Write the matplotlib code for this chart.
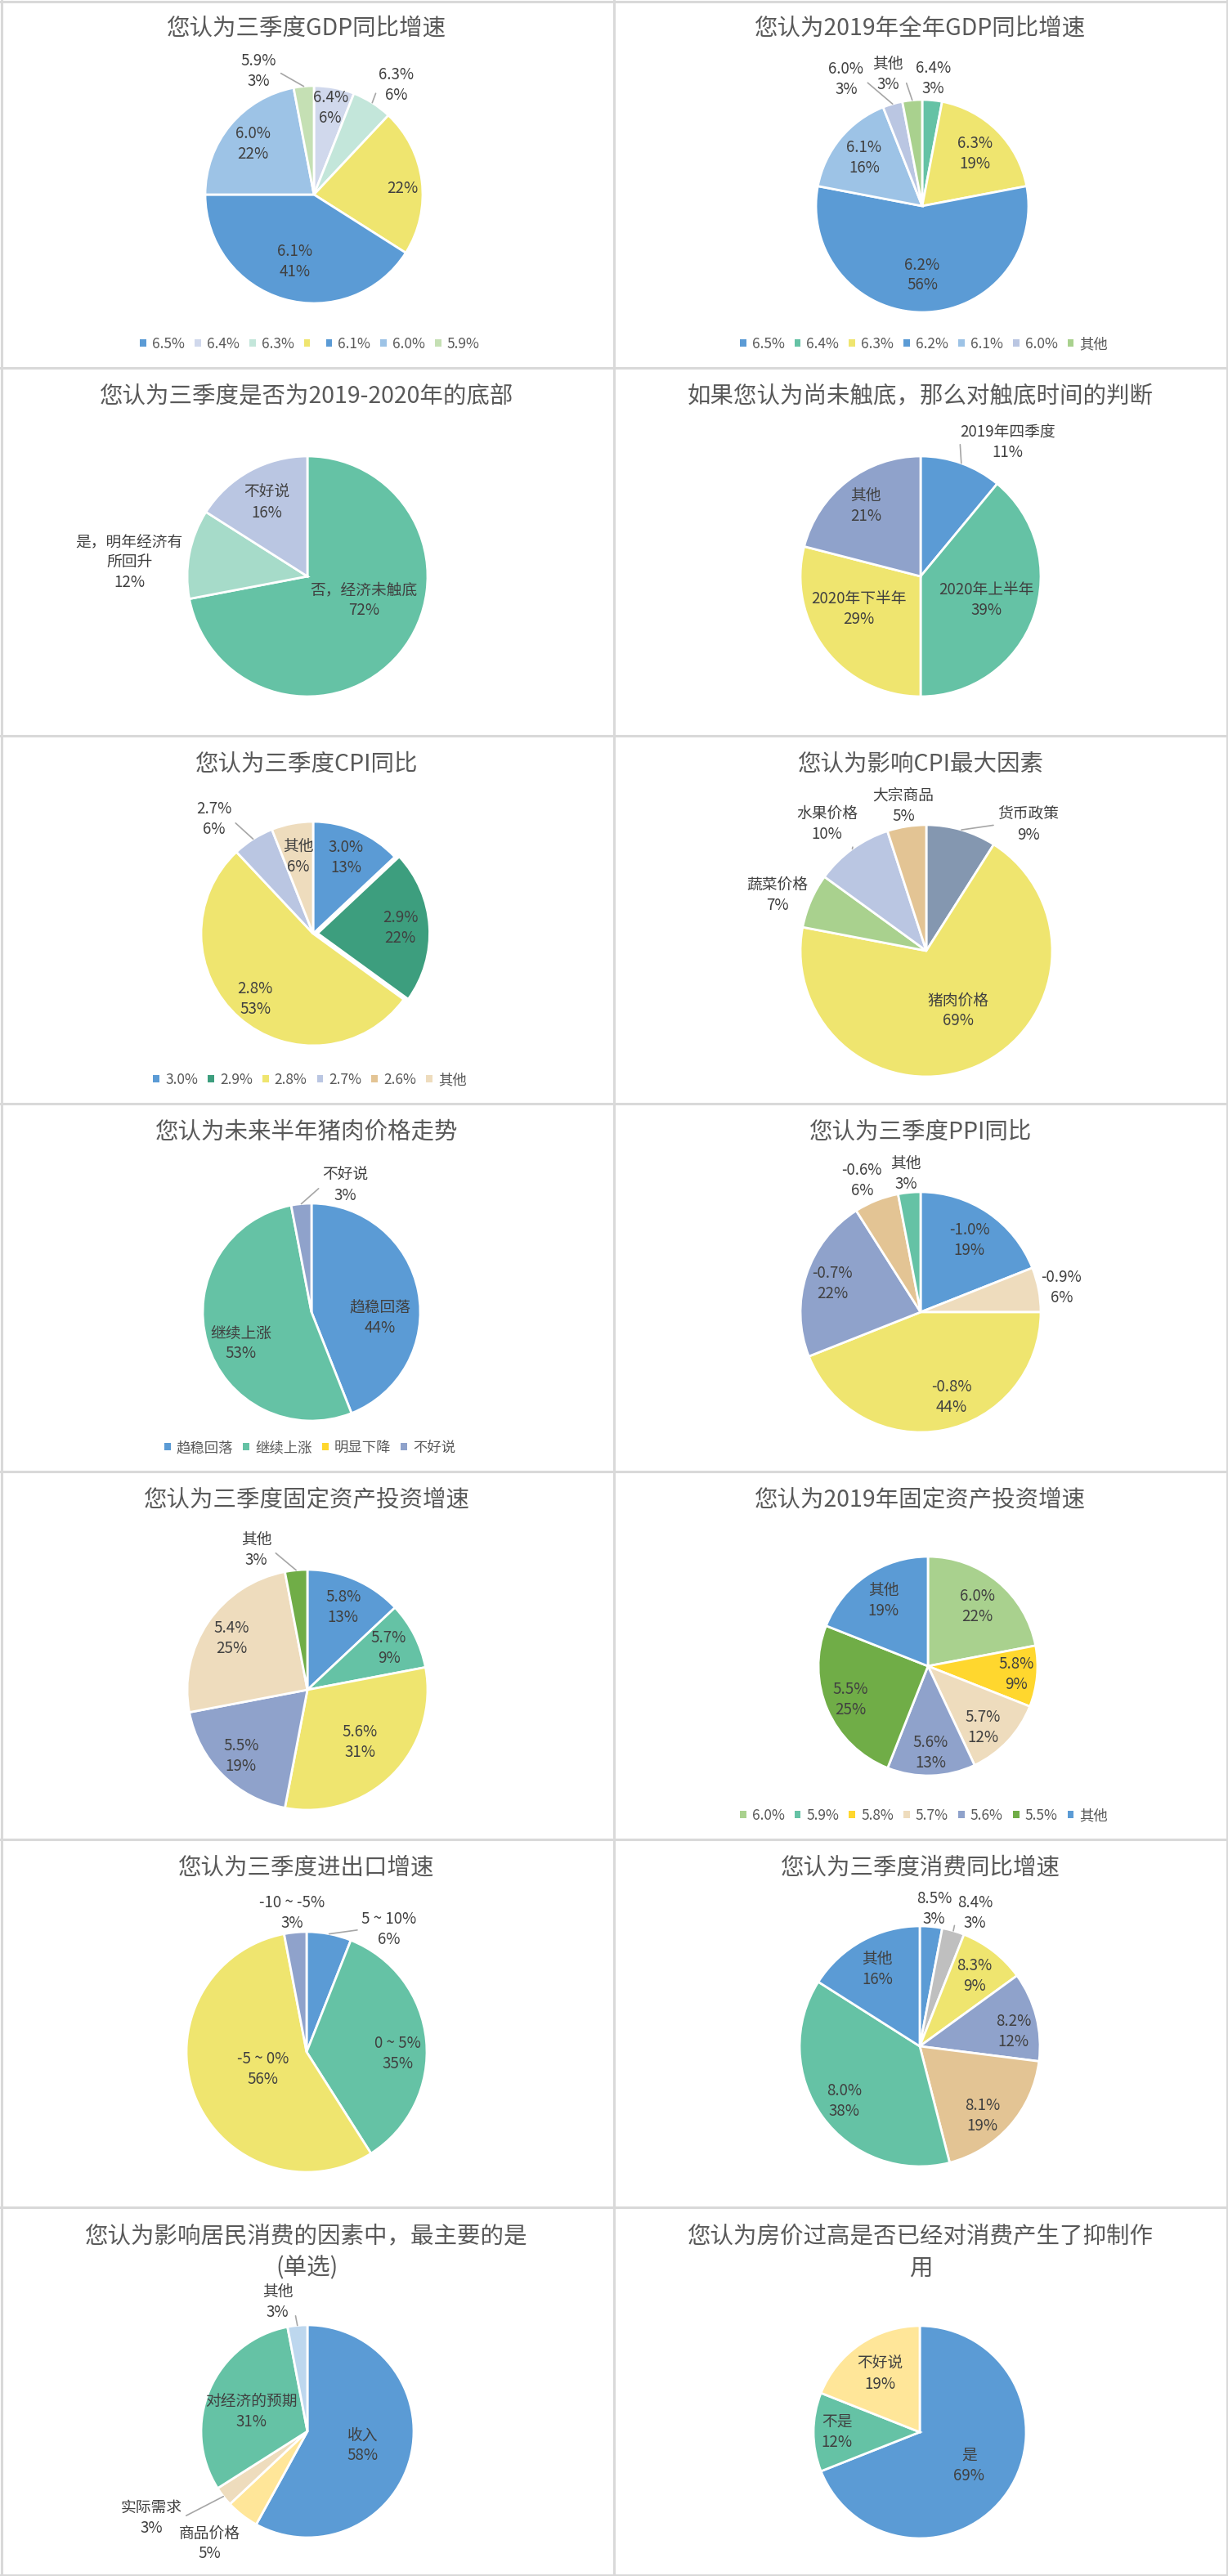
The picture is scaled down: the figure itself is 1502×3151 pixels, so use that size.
import numpy as np
import matplotlib
matplotlib.use('Agg')
from matplotlib import pyplot as plt
from matplotlib.patches import Patch

plt.rcParams['font.family'] = ['Noto Sans CJK SC', 'DejaVu Sans']

W, H = 1502, 3151
CELL_W, CELL_H = 751, 450

# colours used by the survey charts
BLUE = '#5B9BD5'
GREEN = '#65C2A5'
YELLOW = '#EFE56F'
SLATE = '#8FA2CB'
LAVENDER = '#BAC6E2'
TAN = '#E3C494'
BEIGE = '#EEDCBD'
TITLE_C = '#595959'
LABEL_C = '#404040'
LEADER_C = '#A6A6A6'

# 1. 三季度GDP
gdp_q3_title = '您认为三季度GDP同比增速'
gdp_q3_names = ['6.5%', '6.4%', '6.3%', '', '6.1%', '6.0%', '5.9%']
gdp_q3_values = [0, 6, 6, 22, 41, 22, 3]
gdp_q3_colors = [BLUE, '#D0D8EC', '#C3E6DA', YELLOW, BLUE, '#9DC3E6', '#C5E0B4']

# 2. 2019全年GDP
gdp_y_title = '您认为2019年全年GDP同比增速'
gdp_y_names = ['6.5%', '6.4%', '6.3%', '6.2%', '6.1%', '6.0%', '其他']
gdp_y_values = [0, 3, 19, 56, 16, 3, 3]
gdp_y_colors = [BLUE, GREEN, YELLOW, BLUE, '#9DC3E6', LAVENDER, '#A9D18E']

# 3. 是否底部
bottom_title = '您认为三季度是否为2019-2020年的底部'
bottom_names = ['否，经济未触底', '是，明年经济有\n所回升', '不好说']
bottom_values = [72, 12, 16]
bottom_colors = [GREEN, '#A6DBC9', LAVENDER]

# 4. 触底时间
when_title = '如果您认为尚未触底，那么对触底时间的判断'
when_names = ['2019年四季度', '2020年上半年', '2020年下半年', '其他']
when_values = [11, 39, 29, 21]
when_colors = [BLUE, GREEN, YELLOW, SLATE]

# 5. CPI
cpi_title = '您认为三季度CPI同比'
cpi_names = ['3.0%', '2.9%', '2.8%', '2.7%', '2.6%', '其他']
cpi_values = [13, 22, 53, 6, 0, 6]
cpi_colors = [BLUE, '#3D9E7E', YELLOW, LAVENDER, TAN, BEIGE]

# 6. CPI因素
cpi_f_title = '您认为影响CPI最大因素'
cpi_f_names = ['货币政策', '猪肉价格', '蔬菜价格', '水果价格', '大宗商品']
cpi_f_values = [9, 69, 7, 10, 5]
cpi_f_colors = ['#8497B0', YELLOW, '#A9D18E', LAVENDER, TAN]

# 7. 猪肉价格
pork_title = '您认为未来半年猪肉价格走势'
pork_names = ['趋稳回落', '继续上涨', '明显下降', '不好说']
pork_values = [44, 53, 0, 3]
pork_colors = [BLUE, GREEN, '#FFD72E', SLATE]

# 8. PPI
ppi_title = '您认为三季度PPI同比'
ppi_names = ['-1.0%', '-0.9%', '-0.8%', '-0.7%', '-0.6%', '其他']
ppi_values = [19, 6, 44, 22, 6, 3]
ppi_colors = [BLUE, BEIGE, YELLOW, SLATE, TAN, GREEN]

# 9. 三季度固定资产投资
fai_q3_title = '您认为三季度固定资产投资增速'
fai_q3_names = ['5.8%', '5.7%', '5.6%', '5.5%', '5.4%', '其他']
fai_q3_values = [13, 9, 31, 19, 25, 3]
fai_q3_colors = [BLUE, GREEN, YELLOW, SLATE, BEIGE, '#70AD47']

# 10. 2019固定资产投资
fai_y_title = '您认为2019年固定资产投资增速'
fai_y_names = ['6.0%', '5.9%', '5.8%', '5.7%', '5.6%', '5.5%', '其他']
fai_y_values = [22, 0, 9, 12, 13, 25, 19]
fai_y_colors = ['#A9D18E', GREEN, '#FFD72E', BEIGE, SLATE, '#70AD47', BLUE]

# 11. 进出口
trade_title = '您认为三季度进出口增速'
trade_names = ['5 ~ 10%', '0 ~ 5%', '-5 ~ 0%', '-10 ~ -5%']
trade_values = [6, 35, 56, 3]
trade_colors = [BLUE, GREEN, YELLOW, SLATE]

# 12. 消费
cons_title = '您认为三季度消费同比增速'
cons_names = ['8.5%', '8.4%', '8.3%', '8.2%', '8.1%', '8.0%', '其他']
cons_values = [3, 3, 9, 12, 19, 38, 16]
cons_colors = [BLUE, '#BFBFBF', YELLOW, SLATE, TAN, GREEN, BLUE]

# 13. 居民消费因素
factor_title = '您认为影响居民消费的因素中，最主要的是\n(单选)'
factor_names = ['收入', '商品价格', '实际需求', '对经济的预期', '其他']
factor_values = [58, 5, 3, 31, 3]
factor_colors = [BLUE, '#FFE699', BEIGE, GREEN, '#BDD7EE']

# 14. 房价
house_title = '您认为房价过高是否已经对消费产生了抑制作\n用'
house_names = ['是', '不是', '不好说']
house_values = [69, 12, 19]
house_colors = [BLUE, GREEN, '#FFE699']

fig = plt.figure(figsize=(W / 100, H / 100), dpi=100)
bg = fig.add_axes([0, 0, 1, 1])
bg.set_xlim(0, W)
bg.set_ylim(H, 0)
bg.axis('off')

# cell borders
for y in [1.5] + [CELL_H * k for k in range(1, 7)] + [H - 1.5]:
    bg.plot([0, W], [y, y], color='#D9D9D9', lw=2.2)
for x in [1.5, CELL_W, W - 1.5]:
    bg.plot([x, x], [0, H], color='#D9D9D9', lw=2.2)


def draw_pie(row, col, title, names, values, colors, cx, cy, R, place,
             legend=False, explode=None):
    x0, y0 = col * CELL_W, row * CELL_H
    # title
    if '\n' in title:
        bg.text(x0 + 375, y0 + 55, title, ha='center', va='center',
                fontsize=20.5, color=TITLE_C, linespacing=1.4)
    else:
        bg.text(x0 + 375, y0 + 35, title, ha='center', va='center',
                fontsize=20.5, color=TITLE_C)

    px, py = x0 + cx, y0 + cy
    ax = fig.add_axes([(px - R) / W, 1 - (py + R) / H, 2 * R / W, 2 * R / H])

    idx = [i for i, v in enumerate(values) if v > 0]
    vals = [values[i] for i in idx]
    cols = [colors[i] for i in idx]
    exp = [explode[i] if explode else 0 for i in idx]
    ax.pie(vals, colors=cols, startangle=90, counterclock=False, radius=1,
           explode=exp, wedgeprops=dict(edgecolor='white', linewidth=2))
    # pie() resets the limits, so fix them afterwards
    ax.set_xlim(-1, 1)
    ax.set_ylim(-1, 1)
    ax.axis('off')

    total = float(sum(vals))
    cum = 0.0
    for k, i in enumerate(idx):
        v = values[i]
        mid = 360 * (cum + v / 2) / total
        cum += v
        dist, ang, leader = place[i]
        a = np.radians(mid if ang is None else ang)
        tx, ty = dist * np.sin(a), dist * np.cos(a)
        pct = '%d%%' % v
        txt = names[i] + '\n' + pct if names[i] else pct
        if leader:
            m = np.radians(mid)
            ex, ey = np.sin(m), np.cos(m)
            rel = (1, 0.5) if tx < ex else (0, 0.5)
            ax.annotate(txt, xy=(ex, ey), xytext=(tx, ty), ha='center',
                        va='center', fontsize=13.5, color=LABEL_C,
                        linespacing=1.25, annotation_clip=False,
                        arrowprops=dict(arrowstyle='-', color=LEADER_C,
                                        lw=1.2, shrinkA=2, shrinkB=0,
                                        relpos=rel))
        else:
            ax.text(tx, ty, txt, ha='center', va='center', fontsize=13.5,
                    color=LABEL_C, linespacing=1.25, clip_on=False)

    if legend:
        handles = [Patch(facecolor=c, edgecolor='none') for c in colors]
        fig.legend(handles, names, loc='center',
                   bbox_to_anchor=((x0 + 379) / W, 1 - (y0 + 421) / H),
                   ncol=len(names), frameon=False, fontsize=12.5,
                   handlelength=0.45, handleheight=0.45, handletextpad=0.4,
                   columnspacing=0.7, labelcolor=TITLE_C, borderpad=0)


draw_pie(0, 0, gdp_q3_title, gdp_q3_names, gdp_q3_values, gdp_q3_colors, 384, 238, 133,
         [(0, None, False), (0.81, None, False), (1.26, 37, True), (0.82, 86, False),
          (0.64, None, False), (0.73, None, False), (1.245, 336, True)], legend=True)
draw_pie(0, 1, gdp_y_title, gdp_y_names, gdp_y_values, gdp_y_colors, 377, 252, 130,
         [(0, None, False), (1.205, 5, False), (0.70, None, False), (0.65, None, False),
          (0.71, None, False), (1.39, 329, True), (1.28, 345.5, True)], legend=True)
draw_pie(1, 0, bottom_title, bottom_names, bottom_values, bottom_colors, 376, 255, 147,
         [(0.51, 113, False), (1.485, 274.6, False), (0.70, None, False)])
draw_pie(1, 1, when_title, when_names, when_values, when_colors, 375, 255, 147,
         [(1.33, 33, True), (0.58, None, False), (0.58, 242, False), (0.74, None, False)])
draw_pie(2, 0, cpi_title, cpi_names, cpi_values, cpi_colors, 383, 242, 137,
         [(0.74, None, False), (0.78, None, False), (0.78, None, False),
          (1.35, 319, True), (0, None, False), (0.70, None, False)],
         legend=True, explode=[0, 0.04, 0, 0, 0, 0])
draw_pie(2, 1, cpi_f_title, cpi_f_names, cpi_f_values, cpi_f_colors, 382, 263, 154,
         [(1.29, 39, True), (0.54, 152, False), (1.26, 290.5, False),
          (1.28, 322, True), (1.164, 351, False)])
draw_pie(3, 0, pork_title, pork_names, pork_values, pork_colors, 381, 255, 133,
         [(0.63, 95, False), (0.71, 246, False), (0, None, False), (1.21, 15, True)],
         legend=True)
draw_pie(3, 1, ppi_title, ppi_names, ppi_values, ppi_colors, 375, 255, 147,
         [(0.72, None, False), (1.19, 80, False), (0.75, 160, False),
          (0.77, None, False), (1.20, 336, False), (1.156, 354, False)])
draw_pie(4, 0, fai_q3_title, fai_q3_names, fai_q3_values, fai_q3_colors, 376, 267, 147,
         [(0.75, None, False), (0.76, None, False), (0.62, None, False),
          (0.78, None, False), (0.76, None, False), (1.24, 340, True)])
draw_pie(4, 1, fai_y_title, fai_y_names, fai_y_values, fai_y_colors, 384, 238, 134,
         [(0.71, None, False), (0, None, False), (0.81, None, False), (0.75, 138, False),
          (0.79, None, False), (0.77, None, False), (0.72, None, False)], legend=True)
draw_pie(5, 0, trade_title, trade_names, trade_values, trade_colors, 375, 260, 147,
         [(1.23, 34, True), (0.76, 91, False), (0.39, None, False), (1.166, 354, False)])
draw_pie(5, 1, cons_title, cons_names, cons_values, cons_colors, 374, 253, 147,
         [(1.146, 6, False), (1.20, 22.5, True), (0.74, None, False), (0.79, 81, False),
          (0.78, 138, False), (0.78, None, False), (0.73, None, False)])
draw_pie(6, 0, factor_title, factor_names, factor_values, factor_colors, 376, 274, 130,
         [(0.54, None, False), (1.40, 221, False), (1.68, 241, True),
          (0.56, 289, False), (1.25, 347, True)])
draw_pie(6, 1, house_title, house_names, house_values, house_colors, 374, 275, 130,
         [(0.56, None, False), (0.78, None, False), (0.66, None, False)])

plt.savefig('out.png', dpi=100)
